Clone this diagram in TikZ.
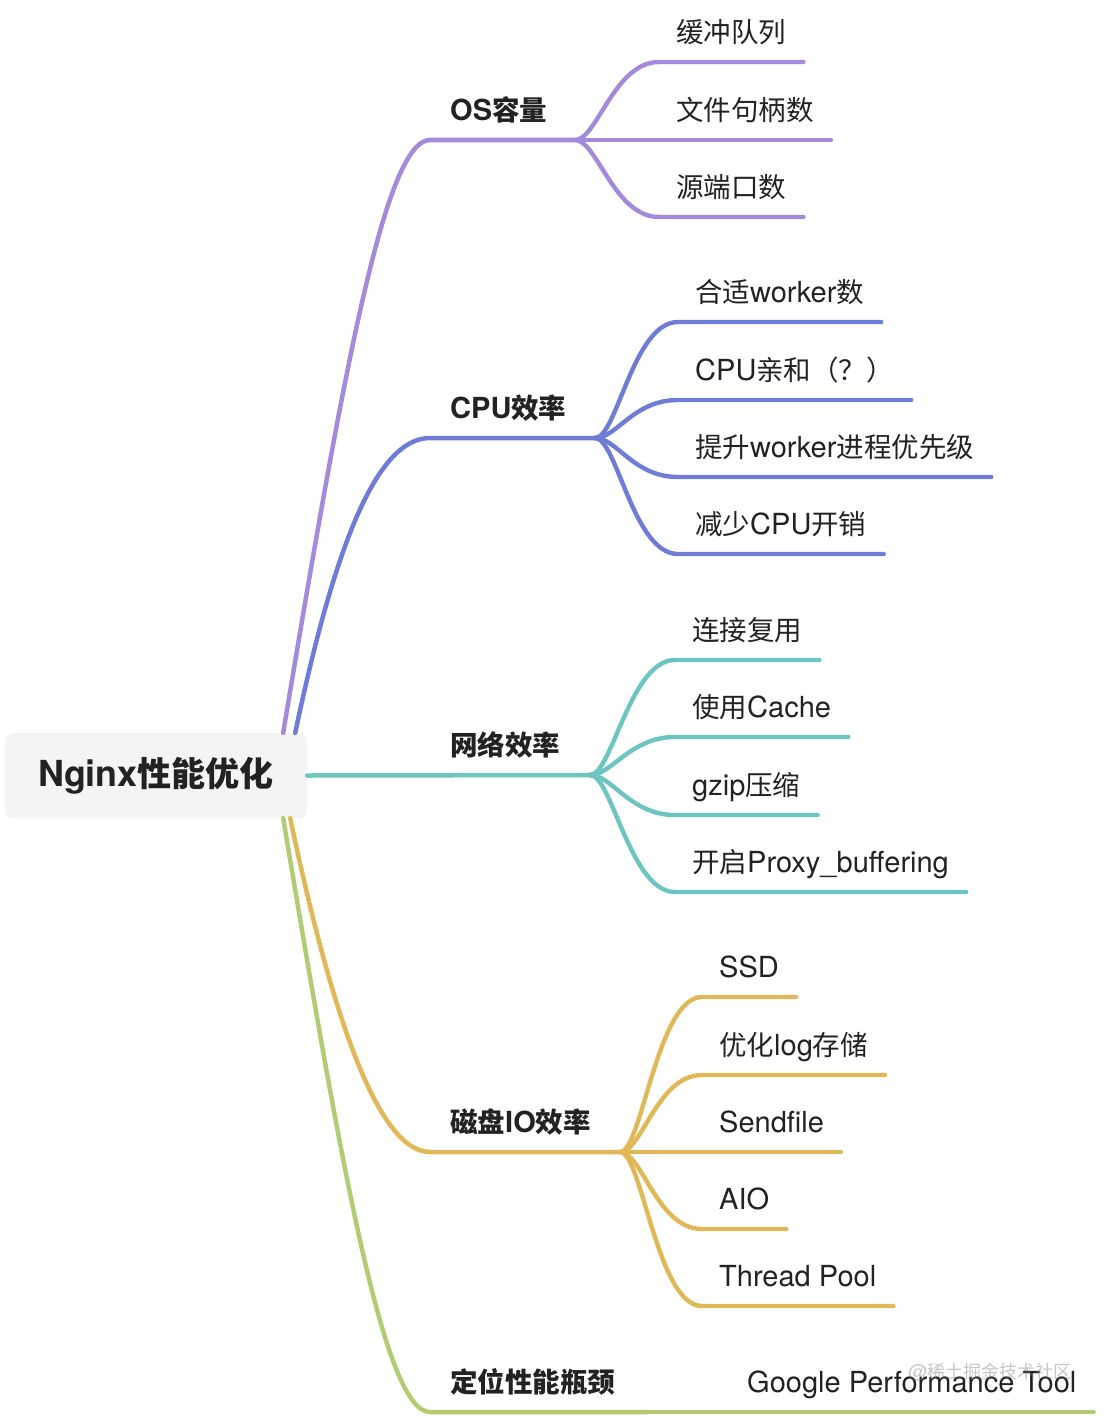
\documentclass[tikz,border=0pt]{standalone}
\usepackage{fontspec}
\setmainfont{TeX Gyre Heros}[Scale=1.055]
\newfontfamily\zh{Noto Sans CJK SC}
\usetikzlibrary{calc}

\definecolor{osc}{RGB}{163,138,219}
\definecolor{cpuc}{RGB}{110,124,215}
\definecolor{netc}{RGB}{108,197,193}
\definecolor{ioc}{RGB}{225,184,88}
\definecolor{locc}{RGB}{179,203,115}
\definecolor{txt}{RGB}{34,34,34}
\definecolor{rootbg}{RGB}{244,244,244}

\begin{document}
\begin{tikzpicture}[x=1pt, y=-1pt,
    root/.style={fill=rootbg, rounded corners=8pt, minimum width=302pt, minimum height=85pt, inner sep=0pt, text=txt, font=\fontsize{34}{38}\selectfont\bfseries},
    leaf/.style={anchor=south west, inner xsep=17pt, inner ysep=0pt, text height=22pt, text depth=19pt, text=txt, font=\fontsize{27.5}{30}\selectfont},
    topic/.style={leaf, inner xsep=20pt, font=\fontsize{27.5}{30}\selectfont\bfseries},
    branch/.style={line width=4.5pt, line cap=round},
    twig/.style={line width=4.4pt, line cap=round}
]
    \useasboundingbox (0,0) rectangle (1104,1418);

    % Root
    \node[root] (root) at (156,775.5) {Nginx{\zh 性能优化}};

    % Topics
    \node[topic] (os) at (430,140) {OS{\zh 容量}};
    \node[topic] (cpu) at (430,438) {CPU{\zh 效率}};
    \node[topic] (net) at (430,775) {{\zh 网络效率}};
    \node[topic] (io) at (430,1152) {{\zh 磁盘}IO{\zh 效率}};
    \node[topic] (loc) at (430,1412) {{\zh 定位性能瓶颈}};

    % Branch points
    \coordinate (osb) at (575,140);
    \coordinate (cpub) at (595,438);
    \coordinate (netb) at (590,775);
    \coordinate (iob) at (620,1152);
    \coordinate (locb) at (648,1412);

    % OS leaves
    \node[leaf] (buf) at (659,62) {{\zh 缓冲队列}};
    \node[leaf] (fd) at (659,140) {{\zh 文件句柄数}};
    \node[leaf] (port) at (659,217) {{\zh 源端口数}};

    % CPU leaves
    \node[leaf] (wk) at (678,322) {{\zh 合适}worker{\zh 数}};
    \node[leaf] (aff) at (678,400) {CPU{\zh 亲和（？）}};
    \node[leaf] (prio) at (678,477) {{\zh 提升}worker{\zh 进程优先级}};
    \node[leaf] (cost) at (678,554) {{\zh 减少}CPU{\zh 开销}};

    % Network leaves
    \node[leaf] (reuse) at (675,660) {{\zh 连接复用}};
    \node[leaf] (cache) at (675,737) {{\zh 使用}Cache};
    \node[leaf] (gzip) at (675,815) {gzip{\zh 压缩}};
    \node[leaf] (pbuf) at (675,892) {{\zh 开启}Proxy\_buffering};

    % Disk leaves
    \node[leaf] (ssd) at (702,997) {SSD};
    \node[leaf] (log) at (702,1075) {{\zh 优化}log{\zh 存储}};
    \node[leaf] (sf) at (702,1152) {Sendfile};
    \node[leaf] (aio) at (702,1229) {AIO};
    \node[leaf] (tp) at (702,1306) {Thread Pool};

    % Locate leaf
    \node[leaf] (gpt) at (730,1412) {Google Performance Tool};

    % Main branches
    \draw[branch, osc] ($(root.north east)+(-24,0)$) .. controls +(60,-360) and +(-45,0) .. (os.south west) -- (osb);
    \draw[branch, cpuc] ($(root.north east)+(-12,0)$) .. controls +(38,-180) and +(-55,0) .. (cpu.south west) -- (cpub);
    \draw[branch, netc] (root.east) -- (netb);
    \draw[branch, ioc] ($(root.south east)+(-17,0)$) .. controls +(38,180) and +(-55,0) .. (io.south west) -- (iob);
    \draw[branch, locc] ($(root.south east)+(-24,0)$) .. controls +(60,360) and +(-45,0) .. (loc.south west) -- (locb);

    % OS twigs
    \draw[twig, osc] (osb) .. controls +(22,0) and +(-45,0) .. (buf.south west) -- (buf.south east);
    \draw[twig, osc] (osb) -- (fd.south east);
    \draw[twig, osc] (osb) .. controls +(22,0) and +(-45,0) .. (port.south west) -- (port.south east);

    % CPU twigs
    \draw[twig, cpuc] (cpub) .. controls +(22,0) and +(-45,0) .. (wk.south west) -- (wk.south east);
    \draw[twig, cpuc] (cpub) .. controls +(22,0) and +(-45,0) .. (aff.south west) -- (aff.south east);
    \draw[twig, cpuc] (cpub) .. controls +(22,0) and +(-45,0) .. (prio.south west) -- (prio.south east);
    \draw[twig, cpuc] (cpub) .. controls +(22,0) and +(-45,0) .. (cost.south west) -- (cost.south east);

    % Network twigs
    \draw[twig, netc] (netb) .. controls +(22,0) and +(-45,0) .. (reuse.south west) -- (reuse.south east);
    \draw[twig, netc] (netb) .. controls +(22,0) and +(-45,0) .. (cache.south west) -- (cache.south east);
    \draw[twig, netc] (netb) .. controls +(22,0) and +(-45,0) .. (gzip.south west) -- (gzip.south east);
    \draw[twig, netc] (netb) .. controls +(22,0) and +(-45,0) .. (pbuf.south west) -- (pbuf.south east);

    % Disk twigs
    \draw[twig, ioc] (iob) .. controls +(22,0) and +(-45,0) .. (ssd.south west) -- (ssd.south east);
    \draw[twig, ioc] (iob) .. controls +(22,0) and +(-45,0) .. (log.south west) -- (log.south east);
    \draw[twig, ioc] (iob) -- (sf.south east);
    \draw[twig, ioc] (iob) .. controls +(22,0) and +(-45,0) .. (aio.south west) -- (aio.south east);
    \draw[twig, ioc] (iob) .. controls +(22,0) and +(-45,0) .. (tp.south west) -- (tp.south east);

    % Locate twig
    \draw[twig, locc] (locb) -- (gpt.south east);

    % Watermark
    \node[text=gray, opacity=0.45, font=\fontsize{18}{20}\selectfont] (wm) at (990,1372) {@{\zh 稀土掘金技术社区}};
\end{tikzpicture}
\end{document}
